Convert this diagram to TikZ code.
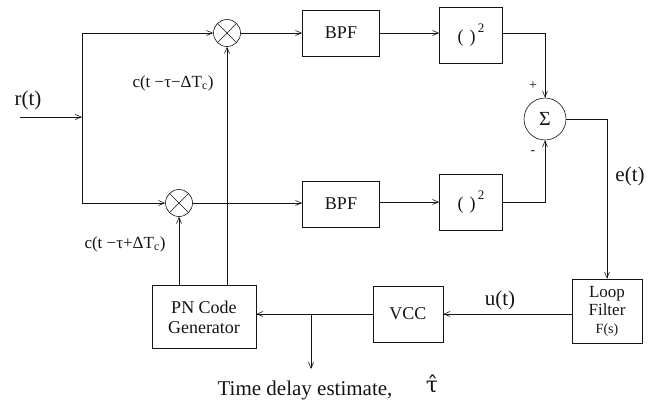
\documentclass[tikz,border=0pt]{standalone}
\usepackage{fontspec}
\setmainfont{Liberation Serif}
\newfontfamily\accfont{DejaVu Serif}
\usetikzlibrary{arrows.meta}

\definecolor{ink}{RGB}{20, 20, 20}

\tikzset{
	blk/.style={draw=ink, inner sep=0pt, font=\fontsize{18}{20}\selectfont, align=center},
	mix/.style={draw=ink, circle, inner sep=0pt, minimum size=27pt,
			path picture={\draw[ink] (path picture bounding box.south west) -- (path picture bounding box.north east)
					(path picture bounding box.north west) -- (path picture bounding box.south east);}},
	sig/.style={font=\fontsize{21}{23}\selectfont},
	lbl/.style={font=\fontsize{17}{19}\selectfont},
}

\begin{document}
\begin{tikzpicture}[x=1pt, y=-1pt, >={Straight Barb[length=6pt, width=5pt]}, ink, line width=0.6pt]
			\useasboundingbox (0,0) rectangle (659,402);

			% --- Upper arm ---
			\node[mix] (mixup) at (227,33) {};
			\node[blk, minimum width=77pt, minimum height=46pt] (bpfup) at (341,33) {BPF};
			\node[blk, minimum width=63pt, minimum height=56pt] (squp) at (471,35) {(\,\,)\raisebox{1.3ex}{\fontsize{13}{13}\selectfont\,2}};

			% --- Lower arm ---
			\node[mix] (mixlo) at (179,203) {};
			\node[blk, minimum width=77pt, minimum height=46pt] (bpflo) at (341,204) {BPF};
			\node[blk, minimum width=63pt, minimum height=56pt] (sqlo) at (471,202) {(\,\,)\raisebox{1.3ex}{\fontsize{13}{13}\selectfont\,2}};

			% --- Summer and loop ---
			\node[draw=ink, circle, inner sep=0pt, minimum size=42pt, font=\fontsize{20}{20}\selectfont] (sum) at (545,119) {Σ};
			\node[blk, minimum width=70pt, minimum height=64pt, font=\fontsize{17}{18}\selectfont] (lf) at (607,311) {Loop\\Filter\\{\fontsize{14}{15}\selectfont F(s)}};
			\node[blk, minimum width=70pt, minimum height=56pt] (vcc) at (408,314) {VCC};
			\node[blk, minimum width=104pt, minimum height=63pt] (pn) at (204,317) {PN Code\\Generator};

			% input split
			\coordinate (in) at (20,117);
			\coordinate (split) at (82,117);
			\coordinate (tap) at (311,314);
			\coordinate (est) at (311,369);

			\draw[->] (in) -- (split);
			\draw[->] (split) |- (mixup.west);
			\draw[->] (split) |- (mixlo.west);

			\draw[->] (mixup.east) -- (mixup.east -| bpfup.west);
			\draw[->] (bpfup.east) -- (bpfup.east -| squp.west);
			\draw[->] (mixlo.east) -- (mixlo.east -| bpflo.west);
			\draw[->] (bpflo.east |- sqlo.west) -- (sqlo.west);

			\draw[->] (squp.east |- mixup) -| (sum.north);
			\draw[->] (sqlo.east) -| (sum.south);
			\draw[->] (sum.east) -| (lf.north);
			\draw[->] (lf.west |- vcc.east) -- (vcc.east);
			\draw[->] (vcc.west) -- (vcc.west -| pn.east);
			\draw[->] (tap) -- (est);

			% PN code feeds
			\draw[->] (pn.north -| mixup) -- (mixup.south);
			\draw[->] (pn.north -| mixlo) -- (mixlo.south);

			% --- Labels ---
			\node[sig] (rt) at (28,100) {r(t)};
			\node[sig] (et) at (630,176) {e(t)};
			\node[sig] (ut) at (500,300) {u(t)};
			\node[lbl] (cup) at (173,83) {c(t −τ−ΔT\textsubscript{c})};
			\node[lbl] (clo) at (125,244) {c(t −τ+ΔT\textsubscript{c})};
			\node[font=\fontsize{14}{14}\selectfont] (plus) at (533,86) {+};
			\node[font=\fontsize{14}{14}\selectfont] (minus) at (533,153) {-};
			\node[sig, anchor=base west] (tde) at (214,395) {Time delay estimate,};
			\node[font=\fontsize{22}{24}\selectfont\accfont, anchor=base] (tauhat) at (432,392) {τ̂};

		\end{tikzpicture}
\end{document}
